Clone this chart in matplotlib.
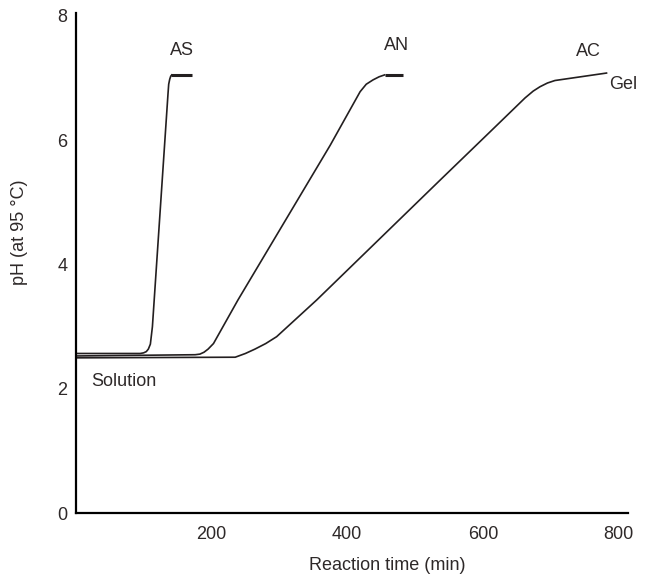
import matplotlib
matplotlib.use("Agg")
import matplotlib.pyplot as plt

plt.rcParams['font.family'] = ['Liberation Sans', 'DejaVu Sans']

# curves: reaction time (min) vs pH
as_t = [0, 95, 100, 104, 107, 110, 113, 136, 137, 138.5, 140, 141.5]
as_ph = [2.57, 2.57, 2.58, 2.6, 2.64, 2.72, 3.0, 6.75, 6.9, 6.98, 7.03, 7.05]
as_gel_t = [141, 171]
as_gel_ph = [7.05, 7.05]

an_t = [0, 176, 183, 189, 195, 203, 239, 375, 419, 428, 438, 447, 455]
an_ph = [2.53, 2.55, 2.56, 2.59, 2.64, 2.73, 3.43, 5.92, 6.78, 6.9, 6.97, 7.02, 7.05]
an_gel_t = [455, 482]
an_gel_ph = [7.05, 7.05]

ac_t = [0, 235, 250, 264, 280, 296, 355, 537, 610, 662, 674, 684, 695, 706, 782]
ac_ph = [2.5, 2.51, 2.57, 2.64, 2.73, 2.84, 3.43, 5.36, 6.13, 6.68, 6.79, 6.86, 6.92, 6.96, 7.08]

xticks = [200, 400, 600, 800]
yticks = [0, 2, 4, 6, 8]

line_col = '#231f20'
text_col = '#2e2929'

fig = plt.figure(figsize=(6.47, 5.79), dpi=100)
ax = fig.add_axes([0.117, 0.1135, 0.854, 0.8645])

ax.plot(as_t, as_ph, color=line_col, lw=1.2)
ax.plot(as_gel_t, as_gel_ph, color=line_col, lw=2.2, solid_capstyle='butt')
ax.plot(an_t, an_ph, color=line_col, lw=1.2)
ax.plot(an_gel_t, an_gel_ph, color=line_col, lw=2.2, solid_capstyle='butt')
ax.plot(ac_t, ac_ph, color=line_col, lw=1.2)

ax.set_xlim(0, 814)
ax.set_ylim(0, 8.05)
ax.set_xticks(xticks)
ax.set_yticks(yticks)
ax.tick_params(length=0, labelsize=13, labelcolor=text_col)
ax.tick_params(axis='x', pad=9)
ax.tick_params(axis='y', pad=6)

for s in ['top', 'right']:
    ax.spines[s].set_visible(False)
for s in ['left', 'bottom']:
    ax.spines[s].set_linewidth(1.6)
    ax.spines[s].set_color('black')

fs = 13
ax.text(156, 7.44, 'AS', ha='center', va='center', fontsize=fs, color=text_col)
ax.text(472, 7.52, 'AN', ha='center', va='center', fontsize=fs, color=text_col)
ax.text(756, 7.42, 'AC', ha='center', va='center', fontsize=fs, color=text_col)
ax.text(807, 6.89, 'Gel', ha='center', va='center', fontsize=fs, color=text_col)
ax.text(23, 2.12, 'Solution', ha='left', va='center', fontsize=fs, color=text_col)

fig.text(387 / 647, 1 - 566 / 579, 'Reaction time (min)', ha='center', va='center',
         fontsize=fs, color=text_col)
fig.text(20 / 647, 1 - 232 / 579, 'pH (at 95 °C)', ha='center', va='center',
         rotation=90, fontsize=fs, color=text_col)

fig.savefig('out.png', dpi=100)
